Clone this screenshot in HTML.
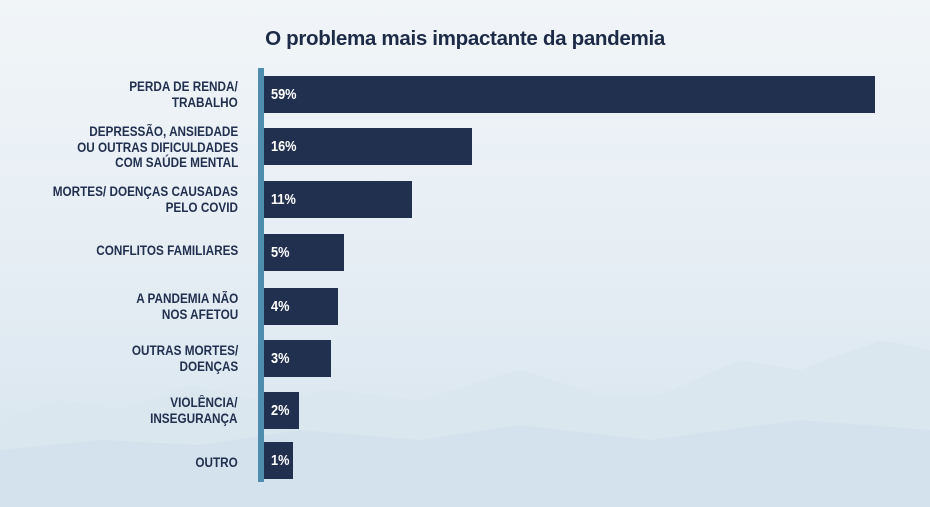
<!DOCTYPE html>
<html><head><meta charset="utf-8"><style>
body{margin:0;width:930px;height:507px;overflow:hidden;position:relative;font-family:"Liberation Sans",sans-serif;background:linear-gradient(#f1f5f8 0%,#e6eef4 50%,#d6e4ee 100%)}
svg.bg{position:absolute;left:0;top:0}
.t{position:absolute;top:27px;left:0;width:930px;text-align:center;font-size:20.6px;font-weight:bold;color:#1e2b47;letter-spacing:-0.35px}
.ax{position:absolute;left:258px;top:68px;width:6px;height:414px;background:#4f8dae}
.b{position:absolute;left:264px;height:37px;background:#22304f}
.b span{position:absolute;left:7px;top:0;line-height:37px;color:#fff;font-weight:bold;font-size:15px;transform:scaleX(0.85);transform-origin:left}
.l{position:absolute;right:692px;text-align:right;color:#22304f;font-weight:bold;font-size:13.5px;line-height:15.5px;white-space:nowrap;transform:scaleX(0.87);transform-origin:right}
</style></head><body>
<svg class="bg" width="930" height="507">
<path d="M0 420 L60 400 L120 410 L190 385 L260 400 L330 390 L420 400 L520 370 L600 395 L660 395 L740 360 L800 370 L880 340 L930 350 L930 507 L0 507Z" fill="#dbe7ef"/>
<path d="M0 450 L100 440 L200 445 L300 430 L420 440 L520 425 L650 440 L800 420 L930 430 L930 507 L0 507Z" fill="#d3e2ec"/>
</svg>
<div class="t">O problema mais impactante da pandemia</div>
<div class="ax"></div>
<div class="b" style="top:76px;width:611px"><span>59%</span></div>
<div class="b" style="top:128px;width:208px"><span>16%</span></div>
<div class="b" style="top:181px;width:148px"><span>11%</span></div>
<div class="b" style="top:234px;width:80px"><span>5%</span></div>
<div class="b" style="top:288px;width:74px"><span>4%</span></div>
<div class="b" style="top:340px;width:67px"><span>3%</span></div>
<div class="b" style="top:392px;width:35px"><span>2%</span></div>
<div class="b" style="top:442px;width:29px"><span>1%</span></div>
<div class="l" style="top:79px">PERDA DE RENDA/<br>TRABALHO</div>
<div class="l" style="top:124px">DEPRESSÃO, ANSIEDADE<br>OU OUTRAS DIFICULDADES<br>COM SAÚDE MENTAL</div>
<div class="l" style="top:184px">MORTES/ DOENÇAS CAUSADAS<br>PELO COVID</div>
<div class="l" style="top:243px">CONFLITOS FAMILIARES</div>
<div class="l" style="top:291px">A PANDEMIA NÃO<br>NOS AFETOU</div>
<div class="l" style="top:343px">OUTRAS MORTES/<br>DOENÇAS</div>
<div class="l" style="top:395px">VIOLÊNCIA/<br>INSEGURANÇA</div>
<div class="l" style="top:455px">OUTRO</div>
</body></html>
